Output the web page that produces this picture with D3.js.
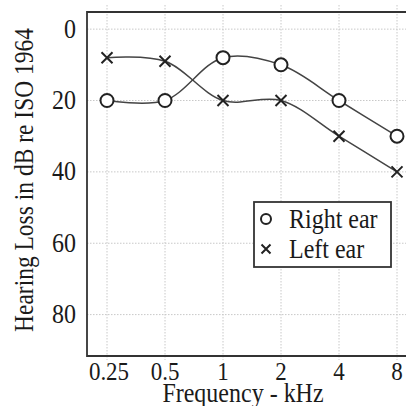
<!DOCTYPE html>
<html lang="en">
<head>
    <meta charset="UTF-8">
    <title>Audiogram</title>
    <script src="https://d3js.org/d3.v7.min.js"></script>
    <style>
        body { margin: 0; background: #fff; }
        text { font-family: "Liberation Serif", "DejaVu Serif", serif; fill: #1a1a1a; }
    </style>
</head>
<body>
    <script>
        // Data
        const frequencies = [0.25, 0.5, 1, 2, 4, 8];
        const freqLabels = ["0.25", "0.5", "1", "2", "4", "8"];
        const rightEar = [20, 20, 8, 10, 20, 30];
        const leftEar = [8, 9, 20, 20, 30, 40];
        const dbTicks = [0, 20, 40, 60, 80];
        const seriesNames = ["Right ear", "Left ear"];

        const W = 406, H = 406;
        const frame = { left: 87, top: 12, bottom: 356 };
        const stretch = 1.12; // glyphs in the reference are a bit taller than wide

        const svg = d3.select("body")
            .append("svg")
            .attr("width", W)
            .attr("height", H);

        // Scales
        const x = d3.scaleLog().base(2)
            .domain([0.25, 8])
            .range([107, 397]);

        const y = d3.scaleLinear()
            .domain([-4.8, 91.6])
            .range([frame.top, frame.bottom]);

        // Grid
        const grid = svg.append("g")
            .attr("stroke", "#c8c8c8")
            .attr("stroke-width", 1)
            .attr("stroke-dasharray", "1.5,1.5");

        grid.selectAll(".vg")
            .data(frequencies)
            .enter()
            .append("line")
            .attr("x1", d => x(d))
            .attr("x2", d => x(d))
            .attr("y1", 5)
            .attr("y2", frame.bottom + 4);

        grid.selectAll(".hg")
            .data(dbTicks)
            .enter()
            .append("line")
            .attr("x1", frame.left)
            .attr("x2", W)
            .attr("y1", d => y(d))
            .attr("y2", d => y(d));

        // Frame
        svg.append("path")
            .attr("d", `M${W},${frame.top}H${frame.left}V${frame.bottom}H${W}`)
            .attr("fill", "none")
            .attr("stroke", "#333")
            .attr("stroke-width", 1.8);

        // Tick labels
        svg.selectAll(".ytick")
            .data(dbTicks)
            .enter()
            .append("text")
            .attr("transform", d => `translate(76,${y(d) + 8.5}) scale(1,${stretch})`)
            .attr("text-anchor", "end")
            .attr("font-size", 24)
            .text(d => d);

        svg.selectAll(".xtick")
            .data(frequencies)
            .enter()
            .append("text")
            .attr("transform", (d, i) => `translate(${x(d) + (i === 0 ? 2 : 0)},380) scale(1,${stretch})`)
            .attr("text-anchor", "middle")
            .attr("font-size", 23)
            .text((d, i) => freqLabels[i]);

        // Axis titles
        svg.append("text")
            .attr("transform", `translate(243,402) scale(1,${stretch})`)
            .attr("text-anchor", "middle")
            .attr("font-size", 24)
            .text("Frequency - kHz");

        svg.append("text")
            .attr("transform", `translate(33,180) rotate(-90) scale(1,${stretch})`)
            .attr("text-anchor", "middle")
            .attr("font-size", 23.5)
            .text("Hearing Loss in dB re ISO 1964");

        // Lines
        const line = d3.line()
            .x((d, i) => x(frequencies[i]))
            .y(d => y(d))
            .curve(d3.curveCatmullRom.alpha(0.5));

        [rightEar, leftEar].forEach(s => {
            svg.append("path")
                .datum(s)
                .attr("d", line)
                .attr("fill", "none")
                .attr("stroke", "#444")
                .attr("stroke-width", 1.5);
        });

        // Markers
        svg.selectAll(".rmark")
            .data(rightEar)
            .enter()
            .append("circle")
            .attr("cx", (d, i) => x(frequencies[i]))
            .attr("cy", d => y(d))
            .attr("r", 6.5)
            .attr("fill", "#fff")
            .attr("stroke", "#222")
            .attr("stroke-width", 2);

        const cross = (g, s) => g
            .attr("d", `M${-s},${-s}L${s},${s}M${-s},${s}L${s},${-s}`)
            .attr("fill", "none")
            .attr("stroke", "#222")
            .attr("stroke-width", 2);

        svg.selectAll(".lmark")
            .data(leftEar)
            .enter()
            .append("path")
            .attr("transform", (d, i) => `translate(${x(frequencies[i])},${y(d)})`)
            .call(cross, 5.5);

        // Legend
        const legend = svg.append("g");
        legend.append("rect")
            .attr("x", 254)
            .attr("y", 202)
            .attr("width", 137)
            .attr("height", 65)
            .attr("fill", "#fff")
            .attr("stroke", "#333")
            .attr("stroke-width", 1.8);

        legend.append("circle")
            .attr("cx", 266)
            .attr("cy", 219)
            .attr("r", 5)
            .attr("fill", "#fff")
            .attr("stroke", "#222")
            .attr("stroke-width", 2);

        legend.append("path")
            .attr("transform", "translate(266,249)")
            .call(cross, 4.5);

        legend.selectAll(".lt")
            .data(seriesNames)
            .enter()
            .append("text")
            .attr("transform", (d, i) => `translate(289,${228 + i * 30}) scale(1,${stretch})`)
            .attr("font-size", 24)
            .text(d => d);
    </script>
</body>
</html>
